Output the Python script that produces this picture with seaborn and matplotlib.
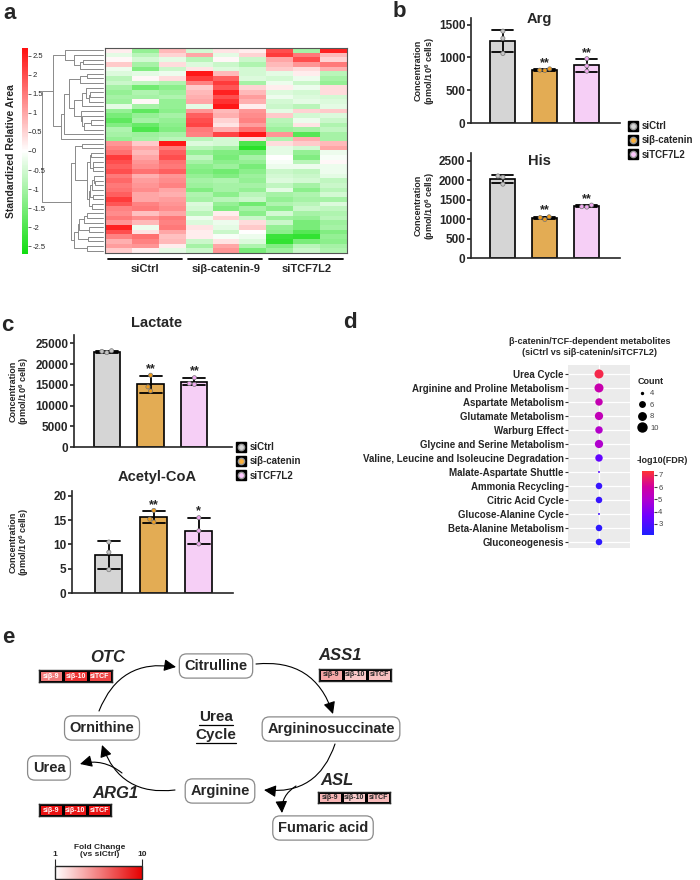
import numpy as np
import pandas as pd
import matplotlib
matplotlib.use("Agg")
import matplotlib.pyplot as plt
import seaborn as sns
from matplotlib.colors import LinearSegmentedColormap, Normalize
from matplotlib.cm import ScalarMappable
from matplotlib.lines import Line2D

sns.set_style("ticks")
plt.rcParams["font.family"] = ["Liberation Sans", "DejaVu Sans"]
plt.rcParams["font.weight"] = "bold"
plt.rcParams["axes.labelweight"] = "bold"
plt.rcParams["mathtext.fontset"] = "custom"
plt.rcParams["mathtext.rm"] = "Liberation Sans:bold"
plt.rcParams["mathtext.it"] = "Liberation Sans:italic:bold"

## ---------------- data ----------------
# a: standardized relative area, 9 samples (3 per group)
heat_groups = ["siCtrl", "siβ-catenin-9", "siTCF7L2"]
heat_rows = [
    [0.2, -1.2, 0.8, -0.5, 0.3, 0.2, 2.0, -1.0, 2.5],
    [-0.3, -0.8, 0.5, 1.0, -0.3, 0.5, 2.2, 1.5, 0.8],
    [0.1, -0.5, -0.3, -0.8, 0.1, -0.6, 1.0, 2.0, 0.5],
    [0.6, -1.0, 0.4, -0.4, -0.6, -0.9, 0.8, 1.2, 1.5],
    [-0.2, -1.4, -0.6, 0.3, -0.4, -0.5, 0.6, 0.4, 0.9],
    [-0.4, -0.3, -0.2, 2.6, 0.8, -0.5, -0.3, 0.2, -0.8],
    [-0.8, 0.1, 0.4, 2.2, 1.8, -0.4, -0.5, -0.2, -1.0],
    [-0.6, -0.7, -0.9, 1.4, 2.2, -1.0, -0.2, -0.6, -1.2],
    [-1.0, -1.6, -1.3, 0.6, 1.9, 0.5, 0.2, -0.2, 0.4],
    [-1.2, -1.8, -1.3, 1.2, 0.8, 1.2, -0.3, 0.5, 0.6],
    [-1.5, -1.2, -1.0, 1.8, 0.9, 1.3, 0.6, -0.5, -0.4],
    [-1.8, -1.0, -1.2, 2.0, 0.5, 1.4, -0.8, -0.2, -0.6],
    [-1.4, -1.7, -1.3, 2.1, 0.3, 1.1, -0.9, 0.3, -0.9],
    [-0.9, -2.0, -1.4, 1.5, 0.9, 1.6, -1.1, -1.0, -0.7],
    [-0.3, -1.0, -1.2, -0.3, 2.6, 0.2, -0.6, -0.8, -0.3],
    [-1.2, -0.9, -1.1, 0.8, 2.5, 0.8, -0.4, -0.5, 0.4],
    [-1.0, -1.0, -0.9, 0.9, 2.0, 1.1, -0.2, -0.4, -0.5],
    [-1.1, 0.1, -1.2, 1.0, 2.3, 0.9, -0.5, -0.3, -0.4],
    [-1.0, -1.1, -1.0, 1.4, 2.1, 2.6, 1.2, -1.9, -1.0],
    [-1.2, -1.0, -0.8, -0.8, -0.5, 0.4, -0.9, 0.9, -1.0],
    [1.2, 0.6, 2.6, -0.4, -0.5, -2.0, 0.4, 0.6, 0.8],
    [1.4, 1.0, 1.5, -0.8, -1.0, -2.4, -0.3, -0.5, 1.0],
    [1.6, 0.8, 1.8, -1.2, -1.4, -1.5, -0.3, -1.2, -0.2],
    [2.0, 1.2, 1.6, -1.0, -1.3, -1.2, -0.1, -0.8, 0.1],
    [2.2, 1.0, 2.0, -0.7, -1.5, -1.0, 0.0, -1.4, -0.1],
    [1.8, 1.3, 1.5, -1.3, -1.1, -1.5, -0.2, -0.2, -0.2],
    [1.5, 0.9, 1.2, -1.2, -1.4, -1.1, -0.5, -0.6, -0.3],
    [2.0, 1.6, 1.8, -1.4, -1.6, -1.3, -0.6, -0.7, -0.2],
    [1.7, 1.1, 1.3, -1.0, -0.9, -1.2, -0.4, -0.5, -0.7],
    [1.9, 1.4, 1.2, -0.4, -1.2, -1.6, -0.9, -0.8, -0.4],
    [1.5, 1.2, 1.4, -1.1, -1.0, -1.0, -0.7, -1.0, -0.6],
    [1.8, 1.0, 0.9, -0.9, -1.3, -0.8, -1.0, -0.9, -0.5],
    [1.6, 1.3, 1.0, -1.4, -1.0, -1.2, -0.3, -1.3, -0.8],
    [2.2, 1.0, 1.1, -1.0, -0.8, -0.6, -1.2, -1.0, -1.0],
    [1.4, 1.5, 1.3, -0.5, -1.4, -1.0, -1.3, -0.6, -0.7],
    [1.3, 0.7, 1.0, -0.8, 0.2, -1.3, -0.5, -1.0, -0.9],
    [2.5, -0.2, 1.5, 0.3, -0.3, 0.6, -1.2, -1.5, -1.0],
    [2.0, 0.3, 1.0, 0.2, -0.6, 0.0, -1.3, -1.9, -1.4],
    [1.2, 0.8, 1.4, -0.4, -0.2, 0.4, -0.6, -1.5, -1.1],
    [1.5, 1.3, 1.5, -0.2, 0.5, -0.6, -1.1, -1.2, -0.8],
    [1.4, 1.6, 0.7, 0.2, -0.1, -0.2, -2.2, -2.3, -1.2],
    [0.9, 1.4, 0.8, -0.6, 0.3, -0.4, -2.3, -1.5, -1.3],
    [1.1, 1.2, 0.2, -1.0, 1.0, -0.9, -1.4, -0.8, -1.0],
    [0.6, 0.2, -0.3, -0.6, 1.2, -1.5, -1.1, -0.6, -0.9],
]
heat_ticks = [-2.5, -2, -1.5, -1, -0.5, 0, 0.5, 1, 1.5, 2, 2.5]

# b, c: replicate concentrations (pmol/10^6 cells)
groups = ["siCtrl", "siβ-catenin", "siTCF7L2"]
arg_reps = [[1400, 1290, 1060], [800, 825, 805], [980, 870, 790]]
his_reps = [[2080, 2110, 1900], [1060, 1040, 990], [1360, 1320, 1310]]
lac_reps = [[23200, 22750, 23050], [17300, 14500, 13500], [16700, 15300, 15100]]
acoa_reps = [[10.5, 8.4, 4.8], [17.0, 15.2, 14.6], [15.5, 12.8, 10.1]]
arg_stars = ["", "**", "**"]
his_stars = ["", "**", "**"]
lac_stars = ["", "**", "**"]
acoa_stars = ["", "**", "*"]

# d: pathway enrichment
pathways = ["Urea Cycle", "Arginine and Proline Metabolism", "Aspartate Metabolism",
            "Glutamate Metabolism", "Warburg Effect", "Glycine and Serine Metabolism",
            "Valine, Leucine and Isoleucine Degradation", "Malate-Aspartate Shuttle",
            "Ammonia Recycling", "Citric Acid Cycle", "Glucose-Alanine Cycle",
            "Beta-Alanine Metabolism", "Gluconeogenesis"]
path_counts = [10, 10, 8, 9, 8, 9, 8, 4, 7, 7, 4, 7, 7]
path_fdr = [7.0, 5.7, 5.6, 5.5, 5.1, 5.0, 3.4, 3.2, 2.6, 2.6, 2.8, 2.4, 2.4]
count_legend = [4, 6, 8, 10]

# e: fold change vs siCtrl
fc_labels = ["siβ-9", "siβ-10", "siTCF"]
otc_fc = [5.7, 8.2, 7.6]
ass1_fc = [4.1, 3.0, 3.2]
asl_fc = [3.6, 2.8, 3.4]
arg1_fc = [9.4, 9.2, 9.4]

## ---------------- helpers ----------------
W, H = 700, 880
fig = plt.figure(figsize=(W / 100, H / 100), dpi=100)


def px_axes(x0, y0, x1, y1):
    return fig.add_axes([x0 / W, 1 - y1 / H, (x1 - x0) / W, (y1 - y0) / H])


def ftext(x, y, s, **kw):
    return fig.text(x / W, 1 - y / H, s, **kw)


def average_linkage(X):
    n = len(X)
    D = np.sqrt(((X[:, None, :] - X[None, :, :]) ** 2).sum(-1))
    members = {i: [i] for i in range(n)}
    nodes = {}
    nid = n
    while len(members) > 1:
        keys = list(members)
        best = None
        for i in range(len(keys)):
            for j in range(i + 1, len(keys)):
                d = D[np.ix_(members[keys[i]], members[keys[j]])].mean()
                if best is None or d < best[0]:
                    best = (d, keys[i], keys[j])
        d, a, b = best
        members[nid] = members.pop(a) + members.pop(b)
        nodes[nid] = (a, b, d)
        nid += 1
    return nodes, nid - 1


def leaf_list(nodes, node):
    if node not in nodes:
        return [node]
    a, b, _ = nodes[node]
    la, lb = leaf_list(nodes, a), leaf_list(nodes, b)
    return la + lb if min(la) < min(lb) else lb + la


bar_colors = ["#D5D5D5", "#FBB13C", "#FDC8FD"]
point_colors = ["#C4C4C4", "#F29E1C", "#F0A8F0"]


def bar_panel(ax, reps, ytop, yticks, title, title_xy, stars, xlim, label_x):
    df = pd.DataFrame({"group": np.repeat(groups, [len(r) for r in reps]),
                       "value": np.concatenate(reps)})
    sns.barplot(data=df, x="group", y="value", hue="group", order=groups,
                hue_order=groups, palette=bar_colors, errorbar="sd", capsize=0.5,
                err_kws={"color": "black", "linewidth": 1.3}, edgecolor="black",
                linewidth=1.2, width=0.6, legend=False, ax=ax)
    sns.swarmplot(data=df, x="group", y="value", hue="group", order=groups,
                  hue_order=groups, palette=point_colors, size=3, edgecolor="#777777",
                  linewidth=0.5, legend=False, ax=ax)
    stats = df.groupby("group", sort=False)["value"].agg(["mean", "std"])
    for i, g in enumerate(groups):
        if stars[i]:
            ax.text(i, stats.loc[g, "mean"] + stats.loc[g, "std"] + 0.06 * ytop,
                    stars[i], ha="center", va="center", fontsize=9, fontweight="bold")
    ax.set_ylim(0, ytop)
    ax.set_yticks(yticks)
    ax.set_xlim(*xlim)
    ax.set_xticks([])
    ax.set_xlabel("")
    ax.set_ylabel("Concentration\n(pmol/10$^6$ cells)", fontsize=6.5, linespacing=1.0)
    ax.yaxis.set_label_coords(label_x, 0.5)
    sns.despine(ax=ax)
    for s in ["left", "bottom"]:
        ax.spines[s].set_linewidth(1.2)
    ax.tick_params(axis="y", labelsize=8.5, width=1.2, length=3, pad=1)
    ax.text(title_xy[0], title_xy[1], title, transform=ax.transAxes, ha="center",
            va="center", fontsize=10.5, fontweight="bold")


def group_legend(x, y):
    handles = [(Line2D([], [], marker="s", color="black", markersize=7.5, ls=""),
                Line2D([], [], marker="o", color=c, markeredgecolor="#999999",
                       markersize=4.5, ls="")) for c in bar_colors]
    fig.legend(handles, groups, loc="upper left", bbox_to_anchor=(x / W, 1 - y / H),
               bbox_transform=fig.transFigure, frameon=False,
               prop={"size": 7, "weight": "bold"}, handlelength=1.0,
               handletextpad=0.4, labelspacing=0.45, borderpad=0, borderaxespad=0)


## ---------------- a: heatmap ----------------
heat_cmap = LinearSegmentedColormap.from_list("gwr", ["#10DD10", "#FFFFFF", "#FF1010"])
X = np.array(heat_rows)
nodes, root = average_linkage(X)
order = leaf_list(nodes, root)

ax_h = px_axes(105, 48, 347, 253)
ax_dend = px_axes(41, 48, 105, 253)
cax_h = px_axes(22, 48, 28, 254)
sns.heatmap(X[order], ax=ax_h, cmap=heat_cmap, vmin=-2.7, vmax=2.7, cbar_ax=cax_h,
            xticklabels=False, yticklabels=False, cbar_kws={"ticks": heat_ticks})
for s in ax_h.spines.values():
    s.set_visible(True)
    s.set_color("#555555")
    s.set_linewidth(0.8)
cax_h.yaxis.set_ticks_position("right")
cax_h.set_yticklabels(["%g" % t for t in heat_ticks], fontsize=5.5, fontweight="normal")
cax_h.tick_params(length=2, width=0.5, pad=1)

pos = {leaf: (i + 0.5, 0.0) for i, leaf in enumerate(order)}


def draw_node(node):
    if node in pos:
        return pos[node]
    a, b, h = nodes[node]
    ya, ha = draw_node(a)
    yb, hb = draw_node(b)
    ax_dend.plot([ha, h, h, hb], [ya, ya, yb, yb], color="#8a8a8a", lw=0.7)
    pos[node] = ((ya + yb) / 2, h)
    return pos[node]


draw_node(root)
root_h = nodes[root][2]
ax_dend.set_xlim(root_h * 1.02, -root_h * 0.04)
ax_dend.set_ylim(len(X), 0)
ax_dend.axis("off")

xt = ax_h.get_xaxis_transform()
for k, lab in enumerate(heat_groups):
    ax_h.plot([3 * k + 0.1, 3 * k + 2.85], [-0.03, -0.03], color="black", lw=1.3,
              transform=xt, clip_on=False)
    ax_h.text(3 * k + 1.5, -0.08, lab, transform=xt, ha="center", va="center",
              fontsize=8, fontweight="bold")
ftext(11, 151, "Standardized Relative Area", rotation=90, ha="center", va="center",
      fontsize=7.5, fontweight="bold")

## ---------------- b ----------------
ax_arg = px_axes(471, 18, 620, 123)
bar_panel(ax_arg, arg_reps, 1600, [0, 500, 1000, 1500], "Arg", (0.46, 0.99),
          arg_stars, (-0.76, 2.79), -0.23)
ax_his = px_axes(471, 153, 620, 258)
bar_panel(ax_his, his_reps, 2700, [0, 500, 1000, 1500, 2000, 2500], "His", (0.46, 0.92),
          his_stars, (-0.76, 2.79), -0.23)
group_legend(628, 121)

## ---------------- c ----------------
ax_lac = px_axes(74, 335, 232, 447)
bar_panel(ax_lac, lac_reps, 27000, [0, 5000, 10000, 15000, 20000, 25000], "Lactate",
          (0.52, 1.11), lac_stars, (-0.75, 2.86), -0.27)
ax_acoa = px_axes(72, 491, 233, 593)
bar_panel(ax_acoa, acoa_reps, 21, [0, 5, 10, 15, 20], "Acetyl-CoA", (0.53, 1.14),
          acoa_stars, (-0.82, 2.76), -0.255)
group_legend(236, 442)

## ---------------- d: dot plot ----------------
fdr_cmap = LinearSegmentedColormap.from_list(
    "br", [(0, "#1F1FFF"), (0.3, "#7000FF"), (0.55, "#B000D0"), (0.75, "#D000A0"),
           (1, "#FF3333")])
fdr_norm = Normalize(2.1, 7.3)
size_range = (2, 42)
size_norm = (4, 10)
ddf = pd.DataFrame({"pathway": pathways, "count": path_counts, "fdr": path_fdr,
                    "comparison": ["siCtrl vs si"] * len(pathways)})
ax_d = px_axes(568, 365, 630, 548)
ax_d.set_facecolor("#EBEBEB")
sns.scatterplot(data=ddf, x="comparison", y="pathway", size="count", hue="fdr",
                palette=fdr_cmap, hue_norm=fdr_norm, sizes=size_range,
                size_norm=size_norm, legend=False, linewidth=0, ax=ax_d, zorder=3)
ax_d.set_xlim(-1, 1)
ax_d.set_ylim(len(pathways) - 1 + 0.43, -0.64)
ax_d.grid(True, color="white", lw=0.9)
ax_d.set_axisbelow(True)
for s in ax_d.spines.values():
    s.set_visible(False)
ax_d.set_xlabel("")
ax_d.set_ylabel("")
ax_d.set_xticklabels([])
ax_d.tick_params(axis="x", length=0)
ax_d.tick_params(axis="y", length=2, color="#333333", labelsize=7, pad=1)
ftext(590, 347, "β-catenin/TCF-dependent metabolites\n(siCtrl vs siβ-catenin/siTCF7L2)",
      ha="center", va="center", fontsize=6.5, linespacing=1.3)

cnt_handles = [Line2D([], [], marker="o", color="black", ls="",
                      markersize=np.sqrt(size_range[0] + (c - size_norm[0]) /
                                         (size_norm[1] - size_norm[0]) *
                                         (size_range[1] - size_range[0])))
               for c in count_legend]
leg = fig.legend(cnt_handles, [str(c) for c in count_legend], title="Count",
                 loc="upper left", bbox_to_anchor=(634 / W, 1 - 373 / H),
                 bbox_transform=fig.transFigure, frameon=False,
                 prop={"size": 5.5, "weight": "normal"},
                 title_fontproperties={"size": 6.5, "weight": "bold"},
                 handlelength=1.2, handletextpad=0.4, labelspacing=0.55, borderpad=0)
leg._legend_box.align = "left"
for t in leg.get_texts():
    t.set_color("#444444")

cax_d = px_axes(642, 471, 654, 535)
cb = fig.colorbar(ScalarMappable(fdr_norm, fdr_cmap), cax=cax_d, ticks=[3, 4, 5, 6, 7])
cb.outline.set_visible(False)
cax_d.tick_params(labelsize=5.5, length=2, colors="#444444", pad=1)
for t in cax_d.get_yticklabels():
    t.set_fontweight("normal")
ftext(637, 460, "-log10(FDR)", ha="left", va="center", fontsize=6.5, zorder=5)

## ---------------- e: urea cycle ----------------
ax_e = px_axes(0, 610, 700, 880)
ax_e.set_xlim(0, 700)
ax_e.set_ylim(880, 610)
ax_e.axis("off")

box_pos = {"Citrulline": (216, 666), "Argininosuccinate": (331, 729),
           "Ornithine": (102, 728), "Urea": (49, 768), "Arginine": (220, 791),
           "Fumaric acid": (323, 828)}
for name, (x, y) in box_pos.items():
    ax_e.text(x, y, name, ha="center", va="center", fontsize=10.5, fontweight="bold",
              bbox=dict(boxstyle="round,pad=0.35,rounding_size=0.5", fc="white",
                        ec="#8a8a8a", lw=0.9), zorder=3)

arrows = [((99, 711), (176, 667), -0.4), ((256, 664), (333, 714), -0.4),
          ((335, 744), (264, 790), -0.4), ((175, 790), (102, 745), -0.4),
          ((296, 786), (282, 813), 0.3), ((122, 773), (80, 764), 0.25)]
for a, b, r in arrows:
    ax_e.annotate("", xy=b, xytext=a,
                  arrowprops=dict(arrowstyle="-|>,head_length=0.6,head_width=0.3",
                                  color="black", lw=0.8, mutation_scale=12,
                                  connectionstyle=f"arc3,rad={r}", shrinkA=0, shrinkB=0))

u1 = ax_e.text(216, 717, "Urea", ha="center", va="center", fontsize=11, fontweight="bold")
u2 = ax_e.text(216, 735, "Cycle", ha="center", va="center", fontsize=11, fontweight="bold")

genes = {"OTC": (108, 657), "ASS1": (340, 656), "ASL": (337, 780), "ARG1": (115, 793)}
for g, (x, y) in genes.items():
    ax_e.text(x, y, g, ha="center", va="center", fontsize=12, fontweight="bold",
              style="italic")

fc_cmap = LinearSegmentedColormap.from_list("wr", ["#FFFFFF", "#E60000"])
fc_boxes = [(otc_fc, (39, 670, 112, 682)), (ass1_fc, (319, 669, 391, 681)),
            (asl_fc, (318, 792, 390, 803)), (arg1_fc, (39, 804, 111, 816))]
for fc, box in fc_boxes:
    axb = px_axes(*box)
    sns.heatmap(np.array([fc]), ax=axb, cmap=fc_cmap, vmin=1, vmax=10, cbar=False,
                annot=np.array([fc_labels]), fmt="",
                annot_kws={"fontsize": 5, "fontweight": "bold"},
                linewidths=0.9, linecolor="black", xticklabels=False, yticklabels=False)
    for s in axb.spines.values():
        s.set_visible(True)
        s.set_linewidth(1)

cax_fc = px_axes(55, 866, 142, 879)
cbf = fig.colorbar(ScalarMappable(Normalize(1, 10), fc_cmap), cax=cax_fc,
                   orientation="horizontal", ticks=[1, 10])
cbf.outline.set_linewidth(1)
cax_fc.xaxis.set_ticks_position("top")
cax_fc.tick_params(labelsize=6, length=5, width=0.8, pad=1)
ftext(100, 851, "Fold Change\n(vs siCtrl)", ha="center", va="center", fontsize=6,
      linespacing=1.15)

## ---------------- panel letters ----------------
for lab, (x, y) in {"a": (3, 3), "b": (393, 1), "c": (1, 315), "d": (343, 312),
                    "e": (2, 627)}.items():
    ftext(x, y, lab, ha="left", va="top", fontsize=16, fontweight="bold")

# underline "Urea Cycle"
fig.canvas.draw()
inv = ax_e.transData.inverted()
for t in (u1, u2):
    bb = t.get_window_extent()
    (x0, y0), (x1, _) = inv.transform([(bb.x0, bb.y0), (bb.x1, bb.y1)])
    ax_e.plot([x0, x1], [y0 + 1, y0 + 1], color="black", lw=0.9)

fig.savefig("out.png", dpi=100)
